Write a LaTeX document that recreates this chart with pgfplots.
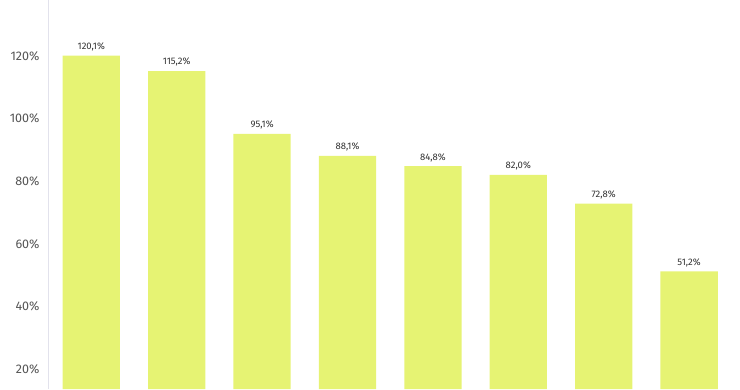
\documentclass[border=0pt]{standalone}
\usepackage{pgfplots}
\pgfplotsset{compat=1.18}
\usepackage{fontspec}
\setmainfont{Fira Sans}
\definecolor{barc}{HTML}{E6F373}
\definecolor{axc}{HTML}{E2E2EC}
\definecolor{tickc}{HTML}{555555}
\definecolor{labc}{HTML}{333333}
\begin{document}
\begin{tikzpicture}[x=1pt,y=1pt]
\useasboundingbox (-48,0) rectangle (692,389);
\begin{axis}[
  at={(0,0)}, anchor=south west,
  scale only axis, width=692pt, height=389pt,
  xmin=-0.507, xmax=7.596,
  ymin=13.6, ymax=137.9,
  ybar, bar width=57.3pt,
  axis line style={draw=none},
  axis x line=none,
  axis y line*=left,
  y axis line style={draw=axc, line width=0.8pt},
  ytick={20,40,60,80,100,120},
  yticklabel={\pgfmathprintnumber{\tick}\%},
  yticklabel style={font=\fontsize{12.5}{14}\selectfont, text=tickc, xshift=-5pt},
  /pgf/number format/assume math mode=true,
  major tick length=0pt,
  tick style={draw=none},
  point meta=explicit symbolic,
  nodes near coords,
  every node near coord/.append style={font=\fontsize{9.5}{11}\selectfont, text=labc, anchor=south, yshift=1pt},
  clip=true,
]
\addplot[fill=barc, draw=none] coordinates {
  (0,120.1) [120,1\%]
  (1,115.2) [115,2\%]
  (2,95.1) [95,1\%]
  (3,88.1) [88,1\%]
  (4,84.8) [84,8\%]
  (5,82.0) [82,0\%]
  (6,72.8) [72,8\%]
  (7,51.2) [51,2\%]
};
\end{axis}
\end{tikzpicture}
\end{document}
